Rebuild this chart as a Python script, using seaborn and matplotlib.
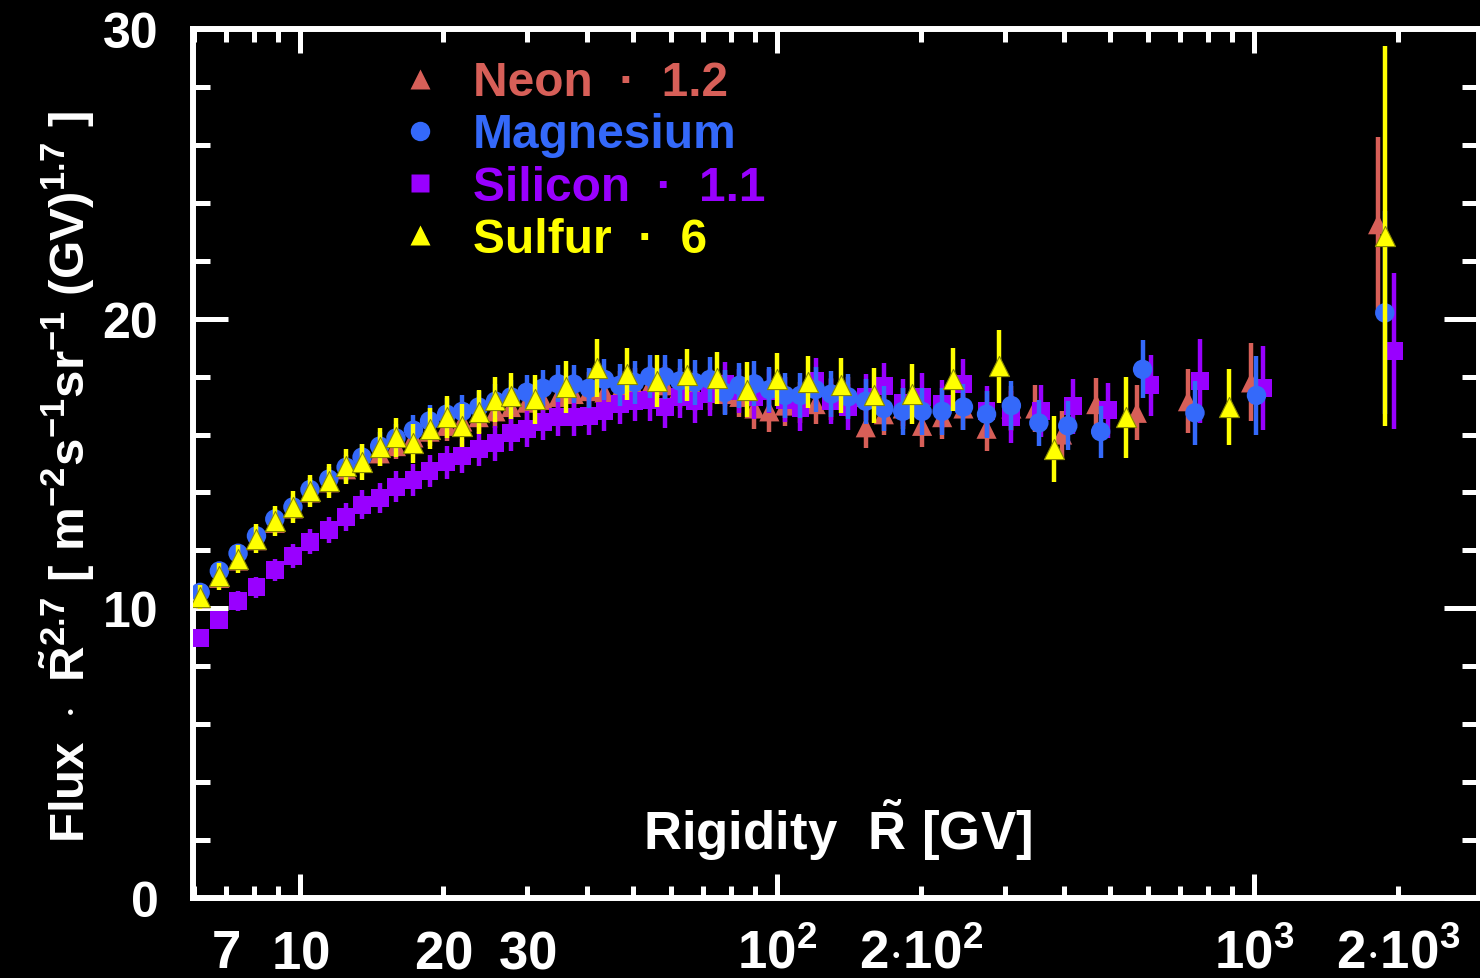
import matplotlib
matplotlib.use('Agg')
import matplotlib.pyplot as plt
import matplotlib.ticker as mticker
from matplotlib import font_manager as fm
from matplotlib.lines import Line2D
import pandas as pd
import seaborn as sns

# ---------------- data ----------------
R_MG = [6.18, 6.78, 7.42, 8.11, 8.86, 9.67, 10.5, 11.5, 12.5, 13.5,
        14.7, 15.9, 17.3, 18.7, 20.3, 21.9, 23.7, 25.7, 27.7, 29.9,
        32.3, 34.8, 37.5, 40.4, 43.5, 46.8, 50.3, 54.1, 58.2, 62.5,
        67.2, 72.3, 77.7, 83.4, 89.7, 96.4, 104, 112, 120.5, 130,
        141, 153.5, 167.5, 183.5, 201.5, 222, 246, 275, 310, 354,
        407, 477, 584, 752, 1012, 1880]
MG = [10.55, 11.29, 11.9, 12.5, 13.08, 13.5, 14.1, 14.46, 14.87, 15.22,
      15.6, 15.88, 16.15, 16.47, 16.7, 16.8, 16.95, 17.15, 17.3, 17.46,
      17.6, 17.75, 17.74, 17.6, 17.9, 17.7, 17.8, 18.0, 18.0, 17.85,
      17.8, 17.9, 17.45, 17.7, 17.75, 17.55, 17.35, 17.35, 17.55, 17.4,
      17.3, 17.15, 16.9, 16.8, 16.8, 16.8, 16.95, 16.7, 17.0, 16.4,
      16.3, 16.1, 18.25, 16.75, 17.35, 20.2]
MG_ERR = [0.28, 0.3, 0.32, 0.34, 0.36, 0.38, 0.4, 0.42, 0.44, 0.46,
          0.48, 0.5, 0.52, 0.54, 0.55, 0.56, 0.57, 0.58, 0.59, 0.6,
          0.62, 0.64, 0.66, 0.68, 0.7, 0.72, 0.74, 0.75, 0.76, 0.76,
          0.77, 0.77, 0.78, 0.78, 0.78, 0.78, 0.78, 0.78, 0.78, 0.78,
          0.78, 0.78, 0.78, 0.8, 0.8, 0.8, 0.8, 0.82, 0.85, 0.8,
          0.85, 0.9, 1.0, 1.1, 1.35, 3.5]

R_NE = [6.18, 6.78, 7.42, 8.11, 8.86, 9.67, 10.5, 11.5, 12.5, 13.5,
        14.7, 15.9, 17.3, 18.7, 20.3, 21.9, 23.7, 25.7, 27.7, 29.9,
        32.3, 34.8, 37.5, 40.4, 43.5, 46.8, 50.3, 54.1, 58.2, 62.5,
        67.2, 72.3, 77.7, 83.4, 89.7, 96.4, 104, 112, 120.5, 130,
        141, 153.5, 167.5, 183.5, 201.5, 222, 246, 275, 310, 348,
        396, 467, 568, 727, 986, 1820]
NE = [10.35, 11.05, 11.65, 12.35, 12.95, 13.45, 14.0, 14.35, 14.8, 15.1,
      15.35, 15.6, 15.9, 16.1, 16.3, 16.45, 16.6, 16.8, 16.95, 17.1,
      17.2, 17.3, 17.4, 17.5, 17.45, 17.5, 17.6, 17.65, 17.7, 17.6,
      17.5, 17.55, 17.4, 17.3, 16.9, 16.8, 17.0, 17.1, 17.05, 17.2,
      17.3, 16.25, 16.7, 16.9, 16.3, 16.6, 16.9, 16.2, 16.9, 16.9,
      16.0, 17.05, 16.75, 17.15, 17.8, 23.26]
NE_ERR = [0.3, 0.31, 0.32, 0.33, 0.34, 0.35, 0.36, 0.38, 0.4, 0.42,
          0.44, 0.46, 0.48, 0.5, 0.52, 0.54, 0.56, 0.58, 0.6, 0.62,
          0.63, 0.64, 0.65, 0.66, 0.67, 0.68, 0.69, 0.7, 0.7, 0.7,
          0.7, 0.7, 0.7, 0.7, 0.7, 0.7, 0.7, 0.7, 0.7, 0.7,
          0.7, 0.7, 0.72, 0.72, 0.72, 0.74, 0.74, 0.76, 0.78, 0.8,
          0.8, 0.9, 0.95, 1.1, 1.35, 3.0]

R_SI = [6.18, 6.78, 7.42, 8.11, 8.86, 9.67, 10.5, 11.5, 12.5, 13.5,
        14.7, 15.9, 17.3, 18.7, 20.3, 21.9, 23.7, 25.7, 27.7, 29.9,
        32.3, 34.8, 37.5, 40.4, 43.5, 46.8, 50.3, 54.1, 58.2, 62.5,
        67.2, 72.3, 77.7, 83.4, 89.7, 96.4, 104, 112, 120.5, 130,
        141, 153.5, 167.5, 183.5, 201.5, 222, 246, 275, 310, 358,
        417, 494, 607, 770, 1043, 1966]
SI = [8.97, 9.6, 10.25, 10.73, 11.32, 11.8, 12.3, 12.7, 13.15, 13.57,
      13.8, 14.2, 14.43, 14.74, 15.05, 15.26, 15.5, 15.7, 16.05, 16.19,
      16.43, 16.6, 16.6, 16.65, 16.8, 17.05, 17.15, 17.2, 16.95, 17.3,
      17.15, 17.4, 17.75, 17.5, 17.3, 17.5, 17.2, 16.9, 17.85, 17.15,
      16.95, 17.3, 17.67, 17.1, 17.3, 17.05, 17.75, 16.8, 16.6, 16.8,
      16.98, 16.84, 17.7, 17.85, 17.6, 18.88]
SI_ERR = [0.3, 0.32, 0.34, 0.36, 0.38, 0.42, 0.44, 0.46, 0.48, 0.5,
          0.52, 0.53, 0.55, 0.56, 0.57, 0.58, 0.59, 0.6, 0.61, 0.62,
          0.63, 0.64, 0.65, 0.66, 0.68, 0.7, 0.7, 0.72, 0.72, 0.74,
          0.74, 0.75, 0.76, 0.76, 0.77, 0.77, 0.78, 0.78, 0.8, 0.8,
          0.8, 0.8, 0.8, 0.82, 0.82, 0.84, 0.86, 0.88, 0.9, 0.9,
          0.95, 0.95, 1.05, 1.45, 1.45, 2.7]

R_S = [6.18, 6.78, 7.42, 8.11, 8.86, 9.67, 10.5, 11.5, 12.5, 13.5,
       14.7, 15.9, 17.3, 18.7, 20.3, 21.9, 23.7, 25.7, 27.7, 31.1,
       36.1, 41.9, 48.5, 56.1, 64.8, 74.9, 86.5, 100, 116, 136,
       160, 192, 234, 292, 381, 539, 885, 1880]
S = [10.4, 11.1, 11.7, 12.4, 13.0, 13.5, 14.05, 14.4, 14.9, 15.05,
     15.57, 15.9, 15.7, 16.2, 16.6, 16.3, 16.77, 17.2, 17.33, 17.22,
     17.64, 18.3, 18.1, 17.85, 18.05, 17.95, 17.55, 17.9, 17.8, 17.7,
     17.35, 17.4, 17.9, 18.35, 15.5, 16.6, 16.95, 22.85]
S_ERR = [0.42, 0.45, 0.47, 0.5, 0.52, 0.54, 0.56, 0.58, 0.6, 0.62,
         0.64, 0.66, 0.68, 0.7, 0.72, 0.74, 0.76, 0.78, 0.8, 0.85,
         0.9, 1.0, 0.9, 0.9, 0.9, 0.9, 0.95, 0.9, 0.9, 0.95,
         0.95, 1.05, 1.1, 1.25, 1.15, 1.4, 1.3, 6.55]

LEGEND_LABELS = ['Neon  \u00b7  1.2', 'Magnesium', 'Silicon  \u00b7  1.1', 'Sulfur  \u00b7  6']
Y_MAJOR = [0, 10, 20, 30]
Y_LABELS = ['0', '10', '20', '30']
X_MAJOR = [10, 100, 1000]
X_MAJOR_LABELS = [r'$\mathbf{10}$', r'$\mathbf{10^{2}}$', r'$\mathbf{10^{3}}$']
X_MINOR = [6, 7, 8, 9, 20, 30, 40, 50, 60, 70, 80, 90,
           200, 300, 400, 500, 600, 700, 800, 900, 2000]
X_MINOR_LABELS = ['', r'$\mathbf{7}$', '', '', r'$\mathbf{20}$', r'$\mathbf{30}$', '', '', '', '', '', '',
                  r'$\mathbf{2{\cdot}10^{2}}$', '', '', '', '', '', '', '', r'$\mathbf{2{\cdot}10^{3}}$']

NEON_C = '#D75F58'
MG_C = '#3469FA'
SI_C = '#9900FF'
S_C = '#FFFF00'

# ---------------- style ----------------
sns.set_theme(style='ticks', rc={'axes.facecolor': 'black', 'figure.facecolor': 'black',
                                  'axes.edgecolor': 'white', 'text.color': 'white',
                                  'xtick.color': 'white', 'ytick.color': 'white',
                                  'axes.labelcolor': 'white'})
names = {f.name for f in fm.fontManager.ttflist}
NARROW = 'Liberation Sans Narrow' if 'Liberation Sans Narrow' in names else 'Liberation Sans'
plt.rcParams['font.family'] = ['Liberation Sans', 'DejaVu Sans']
plt.rcParams['font.weight'] = 'bold'
plt.rcParams['mathtext.fontset'] = 'custom'
plt.rcParams['mathtext.bf'] = NARROW + ':bold'
plt.rcParams['mathtext.rm'] = NARROW + ':bold'
plt.rcParams['mathtext.it'] = NARROW + ':bold'
plt.rcParams['mathtext.sf'] = NARROW + ':bold'

fig = plt.figure(figsize=(14.8, 9.79), dpi=100, facecolor='black')
ax = fig.add_axes([193 / 1480, 1 - 899 / 979, (1479 - 193) / 1480, (899 - 30) / 979])
ax.set_facecolor('black')
ax.set_xscale('log')

series = [
    (R_NE, NE, NE_ERR, '^', NEON_C, 14.5, 2, 'none', 0),
    (R_SI, SI, SI_ERR, 's', SI_C, 12.8, 3, 'none', 0),
    (R_MG, MG, MG_ERR, 'o', MG_C, 14.0, 4, 'none', 0),
    (R_S, S, S_ERR, '^', S_C, 14.5, 5, '#8a8a00', 0.8),
]
for r, v, e, m, c, ms, z, ec, lw in series:
    ax.errorbar(r, v, yerr=e, fmt='none', ecolor=c, elinewidth=3.2, capsize=0, zorder=z)
    df = pd.DataFrame({'R': r, 'flux': v})
    sns.scatterplot(data=df, x='R', y='flux', marker=m, s=ms ** 2, color=c,
                    edgecolor=ec, linewidth=lw, ax=ax, zorder=z + 0.5, legend=False)

ax.set_xlim(5.97, 2962)
ax.set_ylim(0, 30)

for sp in ax.spines.values():
    sp.set_color('white')
    sp.set_linewidth(4.3)
    sp.set_visible(True)

ax.yaxis.set_major_locator(mticker.FixedLocator(Y_MAJOR))
ax.yaxis.set_major_formatter(mticker.FixedFormatter(Y_LABELS))
ax.yaxis.set_minor_locator(mticker.MultipleLocator(2))
ax.xaxis.set_major_locator(mticker.FixedLocator(X_MAJOR))
ax.xaxis.set_major_formatter(mticker.FixedFormatter(X_MAJOR_LABELS))
ax.xaxis.set_minor_locator(mticker.FixedLocator(X_MINOR))
ax.xaxis.set_minor_formatter(mticker.FixedFormatter(X_MINOR_LABELS))

ax.tick_params(axis='y', which='major', direction='in', length=25, width=3.6, color='white',
               left=True, right=True, labelsize=36, pad=25, labelcolor='white')
ax.tick_params(axis='y', which='minor', direction='in', length=12, width=3.6, color='white',
               left=True, right=True)
ax.tick_params(axis='x', which='both', direction='in', width=3.6, color='white',
               top=True, bottom=True, labelsize=38, pad=50, labelcolor='white')
ax.tick_params(axis='x', which='major', length=17)
ax.tick_params(axis='x', which='minor', length=9)
for lab in ax.get_yticklabels():
    lab.set_fontweight('bold')
    lab.set_fontfamily('Liberation Sans')

ax.set_ylabel(r'$\mathbf{Flux\ \cdot\ \tilde{R}^{2.7}\ [\ m^{-2}s^{-1}sr^{-1}\ (GV)^{1.7}\ ]}$',
              fontsize=35.5, color='white')
ax.yaxis.set_label_coords(-0.098, 0.486)
ax.yaxis.label.set(ha='center', va='center', rotation_mode='default')

ax.set_xlabel(r'$\mathbf{Rigidity\ \ \tilde{R}\ [GV]}$', fontsize=38, color='white')
ax.xaxis.set_label_coords(0.501, 0.056)
ax.xaxis.label.set_va('baseline')

handles = [
    Line2D([], [], ls='none', marker='^', ms=14, color=NEON_C, mec='none'),
    Line2D([], [], ls='none', marker='o', ms=14, color=MG_C, mec='none'),
    Line2D([], [], ls='none', marker='s', ms=13, color=SI_C, mec='none'),
    Line2D([], [], ls='none', marker='^', ms=14, color=S_C, mec='none'),
]
ax.legend(handles, LEGEND_LABELS, loc='upper left', bbox_to_anchor=(0.158, 0.964),
          frameon=False, prop={'family': 'Liberation Sans', 'weight': 'bold', 'size': 34.5},
          handlelength=1.0, handletextpad=0.6, labelspacing=0.15, borderpad=0,
          borderaxespad=0, labelcolor=[NEON_C, MG_C, SI_C, S_C])

for t in ax.xaxis.get_major_ticks() + ax.xaxis.get_minor_ticks():
    t.label1.set_verticalalignment('baseline')

fig.savefig('out.png', dpi=100, facecolor='black')
